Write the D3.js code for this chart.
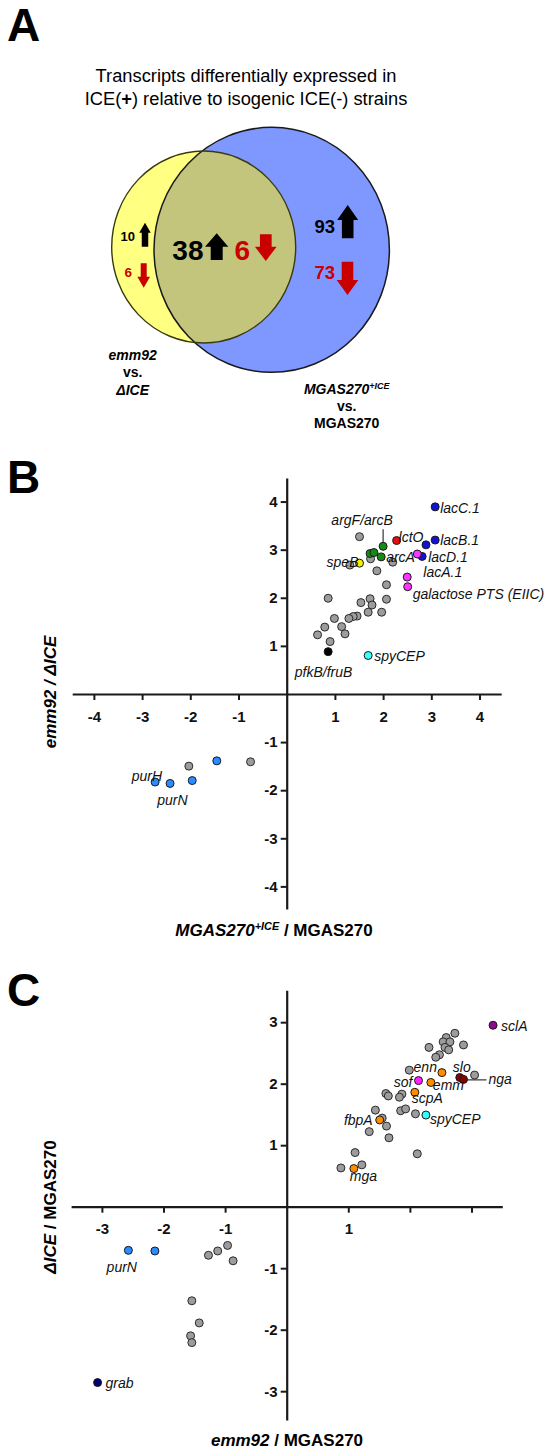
<!DOCTYPE html>
<html><head><meta charset="utf-8">
<script src="https://cdn.jsdelivr.net/npm/d3@7"></script>
<style>body{margin:0;background:#fff} svg{display:block}</style>
</head><body><svg id="c" width="548" height="1452"></svg>
<script>
// ---------------- DATA ----------------
// Panel A (Venn counts)
const vennRegions = ["emm92 vs. ΔICE only", "shared", "MGAS270+ICE vs. MGAS270 only"];
const vennUp = [10, 38, 93];
const vennDown = [6, 6, 73];

// Panel B: x = MGAS270+ICE / MGAS270, y = emm92 / ΔICE
const bTicksX = [-4, -3, -2, -1, 1, 2, 3, 4];
const bTicksY = [-4, -3, -2, -1, 1, 2, 3, 4];
const bOther = [[1.51,3.27],[1.74,2.81],[1.31,2.68],[1.87,2.56],[2.20,2.74],[2.07,2.27],[0.86,1.99],[1.54,1.90],[1.73,1.98],[1.77,1.85],[2.07,1.97],[1.69,1.70],[1.97,1.70],[1.46,1.62],[1.38,1.61],[1.29,1.57],[0.99,1.57],[1.14,1.40],[0.79,1.39],[1.21,1.25],[0.64,1.23],[0.90,1.09],[-2.03,-1.50],[-0.75,-1.41]];
const bGenes = ["lacC.1","lacB.1","","lacD.1","lacA.1","lctO","argF/arcB","","","arcA","speB","","galactose PTS (EIIC)","spyCEP","pfkB/fruB","purH","purN","",""];
const bGeneX = [3.08,3.08,2.89,2.81,2.71,2.28,2.00,1.73,1.81,1.96,1.51,2.50,2.51,1.69,0.86,-2.73,-2.42,-1.96,-1.45];
const bGeneY = [3.89,3.20,3.10,2.86,2.91,3.19,3.07,2.92,2.94,2.85,2.72,2.43,2.23,0.80,0.88,-1.83,-1.86,-1.80,-1.39];
const bGeneGroup = ["lac","lac","lac","lac","gal","lct","arc","arc","arc","arc","spe","gal","gal","spy","pfk","pur","pur","pur","pur"];

// Panel C: x = emm92 / MGAS270, y = ΔICE / MGAS270
const cTicksX = [-3, -2, -1, 1, 2, 3];
const cTickLabelsX = [-3, -2, -1, 1];
const cTicksY = [-3, -2, -1, 1, 2, 3];
const cOther = [[2.73,2.82],[2.59,2.75],[2.54,2.68],[2.65,2.68],[2.57,2.59],[2.63,2.55],[2.87,2.63],[2.31,2.59],[2.48,2.47],[2.42,2.43],[1.99,2.22],[3.05,2.14],[1.61,1.84],[1.65,1.80],[1.87,1.83],[1.83,1.78],[1.85,1.56],[1.93,1.59],[2.09,1.51],[1.44,1.57],[1.55,1.44],[1.62,1.31],[1.34,1.22],[1.66,1.12],[1.11,0.88],[2.12,0.86],[0.88,0.63],[1.22,0.68],[-1.27,-0.79],[-1.12,-0.72],[-0.96,-0.63],[-0.87,-0.88],[-1.54,-1.53],[-1.42,-1.89],[-1.56,-2.10],[-1.54,-2.21]];
const cGenes = ["sclA","sof","emm","enn","slo","nga","scpA","spyCEP","fbpA","mga","purN","","grab"];
const cGeneX = [3.35,2.14,2.34,2.52,2.81,2.87,2.08,2.26,1.51,1.09,-2.57,-2.14,-3.07];
const cGeneY = [2.95,2.05,2.02,2.18,2.10,2.07,1.86,1.49,1.41,0.62,-0.71,-0.72,-2.86];
const cGeneGroup = ["scl","sof","vir","vir","slo","slo","vir","spy","vir","vir","pur","pur","grab"];

// ---------------- STYLE / LAYOUT ----------------
const FONT = '"Liberation Sans", Arial, Helvetica, sans-serif';
const groupColor = {lac:"#1212d2", gal:"#ff33ff", lct:"#e01010", arc:"#168a16", spe:"#f2f200", spy:"#33ffff", pfk:"#000000", pur:"#2a8cff",
  scl:"#8e0a8e", sof:"#ff22ff", vir:"#ff8c00", slo:"#8b0000", grab:"#000070"};
const GRAY = "#9c9c9c";
// label offsets (px) relative to each point: [dx, dy, anchor]
const bLabelPos = {"lacC.1":[5,6,"start"],"lacB.1":[5,5,"start"],"lacD.1":[6,5.5,"start"],"lacA.1":[6,22.5,"start"],"lctO":[2,1.5,"start"],
  "argF/arcB":[-21,-21,"middle"],"arcA":[5,5,"start"],"speB":[-1,3.5,"end"],"galactose PTS (EIIC)":[5,12.6,"start"],"spyCEP":[6,6,"start"],
  "pfkB/fruB":[-4.6,25,"middle"],"purH":[-23.3,-1.5,"start"],"purN":[2.3,22,"middle"]};
const cLabelPos = {"sclA":[8,5.7,"start"],"sof":[-6,6.6,"end"],"emm":[2,8,"start"],"enn":[-5,-1,"end"],"slo":[2,-5.6,"middle"],
  "nga":[25,4.7,"start"],"scpA":[-3,11,"start"],"spyCEP":[4,8.5,"start"],"fbpA":[-7,5,"end"],"mga":[9.5,12.5,"middle"],
  "purN":[-6.6,21.5,"middle"],"grab":[8,5.5,"start"]};

const svg = d3.select("#c");
svg.append("rect").attr("width",548).attr("height",1452).attr("fill","#fff");

// panel letters
[["A",41],["B",493],["C",1006]].forEach(([t,y]) => {
  svg.append("text").attr("x",7).attr("y",y).text(t)
    .style("font-family",FONT).style("font-weight","bold").style("font-size","46px").attr("fill","#000");
});

// ---------------- PANEL A ----------------
const gA = svg.append("g");
gA.append("text").attr("x",246).attr("y",82).attr("text-anchor","middle")
  .style("font-family",FONT).style("font-size","18.3px").text("Transcripts differentially expressed in");
const t2 = gA.append("text").attr("x",246).attr("y",105).attr("text-anchor","middle")
  .style("font-family",FONT).style("font-size","18.3px");
t2.append("tspan").text("ICE(");
t2.append("tspan").style("font-weight","bold").text("+");
t2.append("tspan").text(") relative to isogenic ICE(-) strains");

const blueE = {cx:271.7, cy:249.8, rx:117.7, ry:122.5};
const yelE = {cx:203.7, cy:247, rx:92, ry:96};
const defs = svg.append("defs");
defs.append("clipPath").attr("id","blueClip").append("ellipse")
  .attr("cx",blueE.cx).attr("cy",blueE.cy).attr("rx",blueE.rx).attr("ry",blueE.ry);
const ell = (e) => gA.append("ellipse").attr("cx",e.cx).attr("cy",e.cy).attr("rx",e.rx).attr("ry",e.ry);
ell(blueE).attr("fill","#7f98ff");
ell(yelE).attr("fill","#ffff82");
ell(yelE).attr("fill","#c3c57c").attr("clip-path","url(#blueClip)");
ell(blueE).attr("fill","none").attr("stroke","#1a1a1a").attr("stroke-width",1.5);
ell(yelE).attr("fill","none").attr("stroke","#3a3a10").attr("stroke-width",1.4);

function arrowPath(cx, top, bottom, w, sw, hh, dir){
  if (dir === "up") {
    return `M${cx},${top}L${cx+w/2},${top+hh}L${cx+sw/2},${top+hh}L${cx+sw/2},${bottom}L${cx-sw/2},${bottom}L${cx-sw/2},${top+hh}L${cx-w/2},${top+hh}Z`;
  }
  return `M${cx},${bottom}L${cx+w/2},${bottom-hh}L${cx+sw/2},${bottom-hh}L${cx+sw/2},${top}L${cx-sw/2},${top}L${cx-sw/2},${bottom-hh}L${cx-w/2},${bottom-hh}Z`;
}
const RED = "#c80000";
// layout per region: up number [xEnd, baseline, size], up arrow, down number, down arrow
const vennLayout = [
  {up:[135,241,13], upA:[145,222.7,246.7,11.5,6.5,10], dn:[132,277,13.5], dnA:[143.7,263.3,287.7,12.7,6,11]},
  {up:[203.5,259.5,28], upA:[216.7,233.3,260,23.3,12,13.4], dn:[250,259.5,28], dnA:[265.8,234.3,261,21.7,11.7,14.3]},
  {up:[335,232.5,18.5], upA:[347.7,205,238.3,21,11.6,15], dn:[335,278.5,18.5], dnA:[347.5,261.7,295,21.6,11.6,15]}
];
vennRegions.forEach((r,i) => {
  const L = vennLayout[i];
  gA.append("text").attr("x",L.up[0]).attr("y",L.up[1]).attr("text-anchor","end")
    .style("font-family",FONT).style("font-weight","bold").style("font-size",L.up[2]+"px").attr("fill","#000").text(vennUp[i]);
  gA.append("path").attr("d",arrowPath(...L.upA,"up")).attr("fill","#000");
  gA.append("text").attr("x",L.dn[0]).attr("y",L.dn[1]).attr("text-anchor","end")
    .style("font-family",FONT).style("font-weight","bold").style("font-size",L.dn[2]+"px").attr("fill",RED).text(vennDown[i]);
  gA.append("path").attr("d",arrowPath(...L.dnA,"down")).attr("fill",RED);
});
function boldLine(g, x, y, parts, size){
  const t = g.append("text").attr("x",x).attr("y",y).attr("text-anchor","middle")
    .style("font-family",FONT).style("font-weight","bold").style("font-size",size+"px");
  parts.forEach(p => {
    const s = t.append("tspan").text(p.t);
    if (p.i) s.style("font-style","italic");
    if (p.sup) { s.style("font-size",(size*0.64)+"px").attr("dy",-size*0.38); }
    if (p.after) { s.attr("dy",size*0.38); }
  });
  return t;
}
boldLine(gA,132.7,360,[{t:"emm92",i:1}],14);
boldLine(gA,132.7,377,[{t:"vs."}],14);
boldLine(gA,132.7,395,[{t:"ΔICE",i:1}],14);
boldLine(gA,346.7,394,[{t:"MGAS270",i:1},{t:"+ICE",i:1,sup:1}],14);
boldLine(gA,346.7,411,[{t:"vs."}],14);
boldLine(gA,346.7,428,[{t:"MGAS270"}],14);

// ---------------- SCATTER HELPER ----------------
function scatter(cfg){
  const g = svg.append("g");
  const x = d3.scaleLinear().domain(cfg.xDom).range(cfg.xRange);
  const y = d3.scaleLinear().domain(cfg.yDom).range(cfg.yRange);
  const ax = g.append("g").attr("transform",`translate(0,${y(0)})`)
    .call(d3.axisBottom(x).tickValues(cfg.ticksX).tickSizeInner(6).tickSizeOuter(0).tickPadding(11)
      .tickFormat(d => cfg.labelsX.includes(d) ? String(d) : ""));
  const ay = g.append("g").attr("transform",`translate(${x(0)},0)`)
    .call(d3.axisLeft(y).tickValues(cfg.ticksY).tickSizeInner(6).tickSizeOuter(0).tickPadding(3)
      .tickFormat(d => String(d)));
  [ax, ay].forEach(a => {
    a.select(".domain").attr("stroke","#1a1a1a").attr("stroke-width",2.2);
    a.selectAll(".tick line").attr("stroke","#1a1a1a").attr("stroke-width",2);
    a.selectAll(".tick text").style("font-family",FONT).style("font-weight","bold").style("font-size","15px").attr("fill","#111");
  });
  // leader lines
  (cfg.leaders||[]).forEach(l => {
    const i = cfg.genes.indexOf(l.gene);
    const px = x(cfg.gx[i]), py = y(cfg.gy[i]);
    g.append("line").attr("x1",px+l.x1).attr("y1",py+l.y1).attr("x2",px+l.x2).attr("y2",py+l.y2)
      .attr("stroke","#333").attr("stroke-width",1.2);
  });
  g.selectAll("circle.o").data(cfg.other).join("circle").attr("class","o")
    .attr("cx",d=>x(d[0])).attr("cy",d=>y(d[1])).attr("r",4)
    .attr("fill",GRAY).attr("stroke","#2a2a2a").attr("stroke-width",1);
  const gd = cfg.genes.map((n,i)=>({n, x:cfg.gx[i], y:cfg.gy[i], grp:cfg.grp[i]}));
  g.selectAll("circle.h").data(gd).join("circle").attr("class","h")
    .attr("cx",d=>x(d.x)).attr("cy",d=>y(d.y)).attr("r",4)
    .attr("fill",d=>groupColor[d.grp]).attr("stroke","#1a1a1a").attr("stroke-width",1);
  g.selectAll("text.lab").data(gd.filter(d=>d.n)).join("text").attr("class","lab")
    .attr("x",d=>x(d.x)+cfg.labPos[d.n][0]).attr("y",d=>y(d.y)+cfg.labPos[d.n][1])
    .attr("text-anchor",d=>cfg.labPos[d.n][2])
    .style("font-family",FONT).style("font-style","italic").style("font-size","14px").attr("fill","#111")
    .text(d=>d.n);
  return {g,x,y};
}

// ---------------- PANEL B ----------------
const B = scatter({xDom:[-4.45,4.45], xRange:[72.2,501.2], yDom:[-4.47,4.49], yRange:[909,478],
  ticksX:bTicksX, labelsX:bTicksX, ticksY:bTicksY, other:bOther, genes:bGenes, gx:bGeneX, gy:bGeneY, grp:bGeneGroup,
  labPos:bLabelPos, leaders:[{gene:"argF/arcB", x1:0,y1:-17,x2:0,y2:-4}]});
boldLine(svg,274,936,[{t:"MGAS270",i:1},{t:"+ICE",i:1,sup:1},{t:" / MGAS270",after:1}],17);
svg.append("text").attr("transform","translate(56,692) rotate(-90)").attr("text-anchor","middle")
  .style("font-family",FONT).style("font-weight","bold").style("font-style","italic").style("font-size","17px")
  .text("emm92 / ΔICE");

// ---------------- PANEL C ----------------
const C = scatter({xDom:[-3.5,3.5], xRange:[71.1,502.3], yDom:[-3.47,3.52], yRange:[1420.1,990.2],
  ticksX:cTicksX, labelsX:cTickLabelsX, ticksY:cTicksY, other:cOther, genes:cGenes, gx:cGeneX, gy:cGeneY, grp:cGeneGroup,
  labPos:cLabelPos, leaders:[{gene:"nga", x1:3,y1:0.5,x2:23,y2:0.5}]});
boldLine(svg,287,1446,[{t:"emm92",i:1},{t:" / MGAS270"}],17);
const cyt = svg.append("text").attr("transform","translate(56,1207) rotate(-90)").attr("text-anchor","middle")
  .style("font-family",FONT).style("font-weight","bold").style("font-size","17px");
cyt.append("tspan").style("font-style","italic").text("ΔICE");
cyt.append("tspan").text(" / MGAS270");
</script>
</body></html>
